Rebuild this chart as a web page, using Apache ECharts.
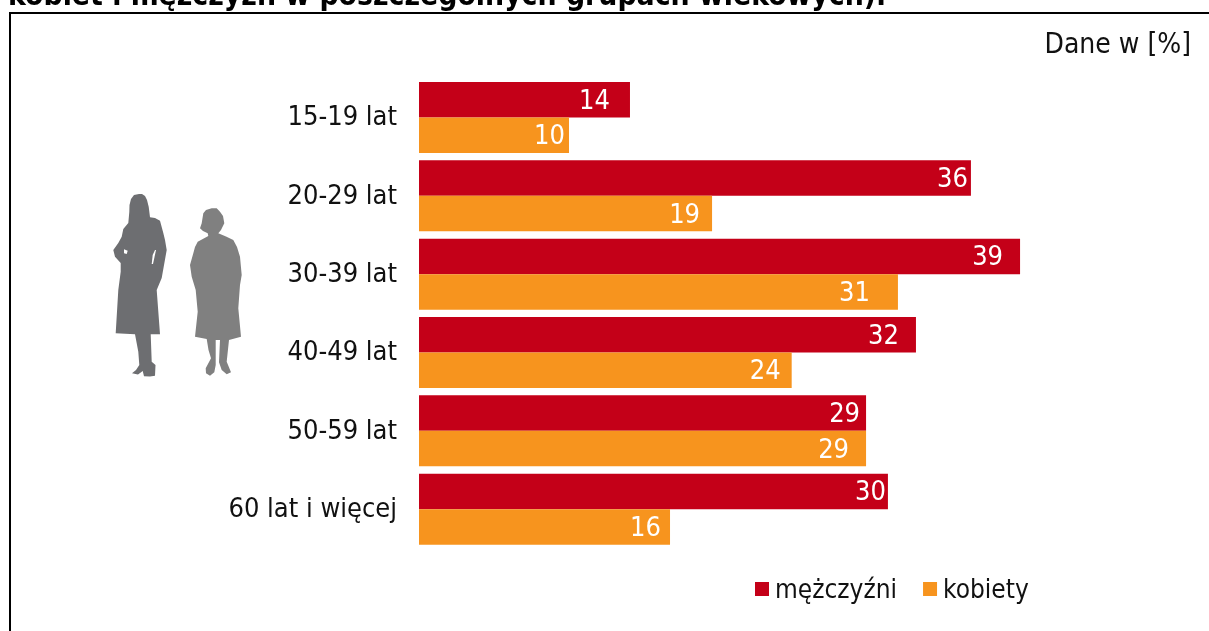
<!DOCTYPE html>
<html><head><meta charset="utf-8">
<style>html,body{margin:0;padding:0;background:#fff}#c{width:1209px;height:631px}</style>
<script src="https://cdn.jsdelivr.net/npm/echarts@6/dist/echarts.min.js"></script>
</head><body><div id="c"></div>
<script>
const categories = ['15-19 lat','20-29 lat','30-39 lat','40-49 lat','50-59 lat','60 lat i więcej'];
const men   = [13.7, 35.84, 39.03, 32.27, 29.03, 30.45];
const women = [9.74, 19.03, 31.1, 24.2, 29.03, 16.3];
const menInset   = [20, 3, 17, 17, 6, 2];
const womenInset = [4, 12, 28, 11, 17, 9];
const FONT = '"DejaVu Sans Condensed","DejaVu Sans"';
const womanA = [[139,194],[134,195],[131,199],[129.5,205],[129.3,212],[128.3,223],[123.3,229],[121.7,236.7],[118.3,243],[113.3,250],[115,256.7],[120.7,263],[120.7,271.7],[118.3,290],[115.7,333.3],[135,334.3],[138.3,351.7],[139.3,365],[136,370],[132,373.3],[138,374.5],[142.7,371],[144,376.3],[150,376.5],[155,375.7],[155.5,365],[151.7,361.7],[150.7,334.3],[160,334.3],[156.7,290],[161.7,278],[166.7,250],[165,240],[163.3,233],[160,220.7],[155,218],[150,217.3],[148.7,206.7],[147,200],[145,196],[142,194]];
const womanHoleL = [[124,249.3],[127.7,250.7],[126.7,254],[124,253.3]];
const womanHoleR = [[155,250],[156,250],[153,264],[151.7,264],[152.7,255]];
const womanB = [[211.7,208.3],[206,210],[203.3,213.3],[201.7,223.3],[200,228.3],[203,231],[207.7,233.3],[208.3,236],[197.7,241.7],[195,247],[193.3,253.3],[190,265],[191.7,276.7],[195.7,290],[197.7,311.7],[195,336.7],[206.7,339],[208.5,350],[211,358.3],[205.7,368.3],[206,373.3],[210,375.7],[214.3,372.3],[215.7,365],[215.7,358.3],[215.7,340],[220,340],[219,362.3],[221.7,370],[226.7,374.3],[231,372.3],[226.7,361.7],[229,340],[241,336.7],[238.3,308.3],[240,285],[241.7,275],[240,256.7],[237,247],[233.3,240],[226,236.5],[218.3,233.3],[221,230],[224.3,223.3],[223,216],[220,211.7],[216.7,208.3]];
const mk = (vals, inset) => vals.map((v,i)=>({value:v,label:{offset:[-inset[i],2]}}));
const labelStyle = {show:true,position:'insideRight',distance:0,color:'#fff',fontFamily:FONT,fontSize:27,formatter:p=>Math.round(p.value)};
const chart = echarts.init(document.getElementById('c'),null,{renderer:'canvas'});
chart.setOption({
  animation:false,
  backgroundColor:'#fff',
  grid:{left:419,top:78.3,width:770,height:470,containLabel:false},
  xAxis:{type:'value',min:0,max:50,show:false},
  yAxis:{type:'category',inverse:true,data:categories,axisLine:{show:false},axisTick:{show:false},
    axisLabel:{margin:22,formatter:v=>'{a|'+v+'}',rich:{a:{color:'#111',fontFamily:FONT,fontSize:27,padding:[2,0,0,0]}}}},
  legend:{left:755,top:578,padding:0,itemWidth:14,itemHeight:14,itemGap:26,icon:'rect',
    formatter:n=>'{a|'+n+'}',
    textStyle:{rich:{a:{fontFamily:FONT,fontSize:26,color:'#111',padding:[4,0,0,1]}}},
    data:['mężczyźni','kobiety']},
  series:[
    {name:'mężczyźni',type:'bar',barWidth:35.5,barGap:'0%',data:mk(men,menInset),itemStyle:{color:'#c40018'},label:labelStyle},
    {name:'kobiety',type:'bar',barWidth:35.5,data:mk(women,womenInset),itemStyle:{color:'#f7941e'},label:labelStyle}
  ],
  graphic:[
    {type:'rect',shape:{x:9,y:12,width:1200,height:2},style:{fill:'#000'}},
    {type:'rect',shape:{x:9,y:12,width:2,height:619},style:{fill:'#000'}},
    {type:'text',x:8,y:-3,style:{text:'kobiet i mężczyzn w poszczególnych grupach wiekowych).',font:'bold 29.8px '+FONT,fill:'#000',verticalAlign:'middle'}},
    {type:'text',x:1191,y:46,style:{text:'Dane w [%]',font:'28px '+FONT,fill:'#111',align:'right',verticalAlign:'middle'}},
    {type:'polygon',shape:{points:womanA},style:{fill:'#6d6e71'}},
    {type:'polygon',shape:{points:womanHoleL},style:{fill:'#fff'}},
    {type:'polygon',shape:{points:womanHoleR},style:{fill:'#fff'}},
    {type:'polygon',shape:{points:womanB},style:{fill:'#808080'}}
  ]
});
</script></body></html>
